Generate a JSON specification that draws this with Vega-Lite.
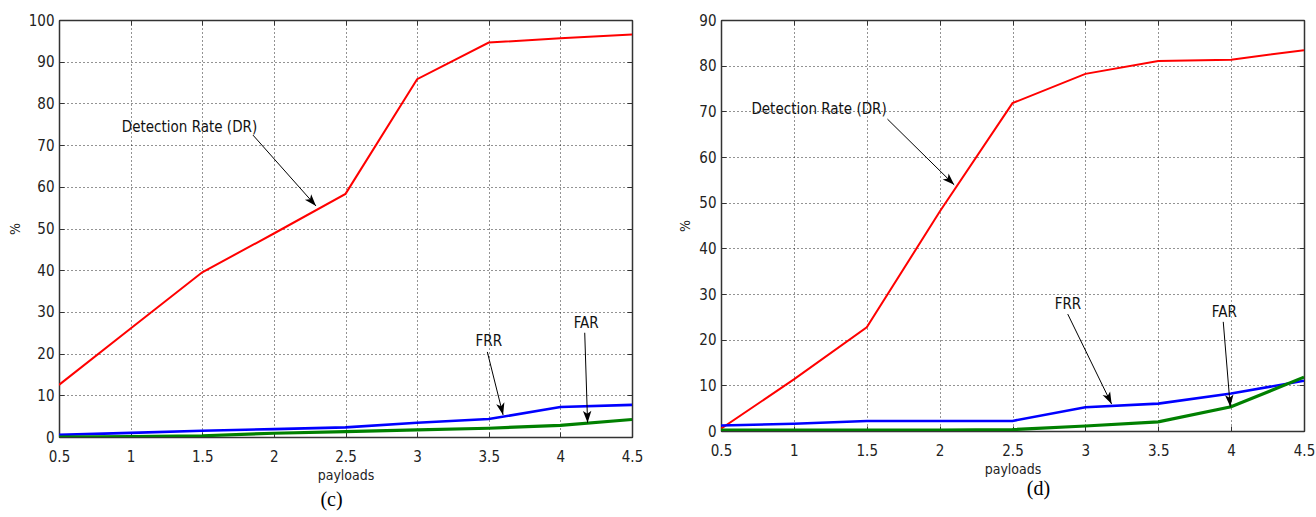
{
  "$schema": "https://vega.github.io/schema/vega-lite/v6.json",
  "padding": {"left": 7, "top": 12, "right": 0, "bottom": 5},
  "background": "#ffffff",
  "datasets": {
    "c": [
      {"payload": 0.5, "metric": "DR", "value": 12.5},
      {"payload": 1, "metric": "DR", "value": 26},
      {"payload": 1.5, "metric": "DR", "value": 39.5},
      {"payload": 2, "metric": "DR", "value": 48.8},
      {"payload": 2.5, "metric": "DR", "value": 58.3},
      {"payload": 3, "metric": "DR", "value": 85.8},
      {"payload": 3.5, "metric": "DR", "value": 94.6},
      {"payload": 4, "metric": "DR", "value": 95.6},
      {"payload": 4.5, "metric": "DR", "value": 96.5},
      {"payload": 0.5, "metric": "FRR", "value": 0.5},
      {"payload": 1, "metric": "FRR", "value": 1},
      {"payload": 1.5, "metric": "FRR", "value": 1.5},
      {"payload": 2, "metric": "FRR", "value": 1.9},
      {"payload": 2.5, "metric": "FRR", "value": 2.3},
      {"payload": 3, "metric": "FRR", "value": 3.4},
      {"payload": 3.5, "metric": "FRR", "value": 4.3},
      {"payload": 4, "metric": "FRR", "value": 7.2},
      {"payload": 4.5, "metric": "FRR", "value": 7.7},
      {"payload": 0.5, "metric": "FAR", "value": 0},
      {"payload": 1, "metric": "FAR", "value": 0.1},
      {"payload": 1.5, "metric": "FAR", "value": 0.3},
      {"payload": 2, "metric": "FAR", "value": 0.9},
      {"payload": 2.5, "metric": "FAR", "value": 1.3},
      {"payload": 3, "metric": "FAR", "value": 1.7},
      {"payload": 3.5, "metric": "FAR", "value": 2.1},
      {"payload": 4, "metric": "FAR", "value": 2.8},
      {"payload": 4.5, "metric": "FAR", "value": 4.2}
    ],
    "d": [
      {"payload": 0.5, "metric": "DR", "value": 0.5},
      {"payload": 1, "metric": "DR", "value": 11.3},
      {"payload": 1.5, "metric": "DR", "value": 22.7},
      {"payload": 2, "metric": "DR", "value": 48},
      {"payload": 2.5, "metric": "DR", "value": 71.8},
      {"payload": 3, "metric": "DR", "value": 78.2},
      {"payload": 3.5, "metric": "DR", "value": 81},
      {"payload": 4, "metric": "DR", "value": 81.3},
      {"payload": 4.5, "metric": "DR", "value": 83.4},
      {"payload": 0.5, "metric": "FRR", "value": 1.2},
      {"payload": 1, "metric": "FRR", "value": 1.6},
      {"payload": 1.5, "metric": "FRR", "value": 2.2},
      {"payload": 2, "metric": "FRR", "value": 2.2},
      {"payload": 2.5, "metric": "FRR", "value": 2.2},
      {"payload": 3, "metric": "FRR", "value": 5.2},
      {"payload": 3.5, "metric": "FRR", "value": 6},
      {"payload": 4, "metric": "FRR", "value": 8.2},
      {"payload": 4.5, "metric": "FRR", "value": 11},
      {"payload": 0.5, "metric": "FAR", "value": 0.2},
      {"payload": 1, "metric": "FAR", "value": 0.2},
      {"payload": 1.5, "metric": "FAR", "value": 0.2},
      {"payload": 2, "metric": "FAR", "value": 0.2},
      {"payload": 2.5, "metric": "FAR", "value": 0.3},
      {"payload": 3, "metric": "FAR", "value": 1.1},
      {"payload": 3.5, "metric": "FAR", "value": 2},
      {"payload": 4, "metric": "FAR", "value": 5.3},
      {"payload": 4.5, "metric": "FAR", "value": 11.8}
    ],
    "annC": [
      {"label": "Detection Rate (DR)", "tx": 1.411, "ty": 74.3, "ax": 1.854, "ay": 72.4, "hx": 2.294, "hy": 55.4},
      {"label": "FRR", "tx": 3.5, "ty": 23, "ax": 3.49, "ay": 20.4, "hx": 3.6, "hy": 5.3},
      {"label": "FAR", "tx": 4.18, "ty": 27.3, "ax": 4.17, "ay": 25, "hx": 4.19, "hy": 3.4}
    ],
    "annD": [
      {"label": "Detection Rate (DR)", "tx": 1.173, "ty": 70.5, "ax": 1.642, "ay": 68.3, "hx": 2.1, "hy": 53.9},
      {"label": "FRR", "tx": 2.88, "ty": 27.8, "ax": 2.879, "ay": 25.6, "hx": 3.18, "hy": 5.9},
      {"label": "FAR", "tx": 3.953, "ty": 26.1, "ax": 3.946, "ay": 23.9, "hx": 3.994, "hy": 5.3}
    ]
  },
  "spacing": 34,
  "hconcat": [
    {
      "width": 573,
      "height": 417,
      "title": {"text": "(c)", "orient": "bottom", "font": "Liberation Serif", "fontSize": 20, "fontWeight": "normal", "color": "#000", "offset": 8, "dx": -14},
      "resolve": {"axis": {"x": "independent", "y": "independent"}},
      "layer": [
        {
          "data": {"name": "c"},
          "mark": {"type": "line", "clip": true},
          "encoding": {
            "x": {"field": "payload", "type": "quantitative", "scale": {"domain": [0.5, 4.5], "nice": false, "zero": false},
                  "axis": {"orient": "bottom", "values": [0.5, 1, 1.5, 2, 2.5, 3, 3.5, 4, 4.5], "format": "~g", "title": "payloads", "grid": true, "labelFlush": false, "labelPadding": 17, "titlePadding": 4}},
            "y": {"field": "value", "type": "quantitative", "scale": {"domain": [0, 100], "nice": false},
                  "axis": {"orient": "left", "values": [0, 10, 20, 30, 40, 50, 60, 70, 80, 90, 100], "title": "%", "grid": true, "labelPadding": 10, "titlePadding": 6}},
            "color": {"field": "metric", "type": "nominal", "scale": {"domain": ["DR", "FRR", "FAR"], "range": ["#ff0000", "#0000ff", "#008000"]}, "legend": null},
            "strokeWidth": {"field": "metric", "type": "nominal", "scale": {"domain": ["DR", "FRR", "FAR"], "range": [2, 3.2, 3.2]}, "legend": null}
          }
        },
        {
          "data": {"name": "c"},
          "mark": {"type": "point", "opacity": 0},
          "encoding": {
            "x": {"field": "payload", "type": "quantitative", "axis": {"orient": "top", "labels": false, "title": null, "grid": false, "values": [0.5, 1, 1.5, 2, 2.5, 3, 3.5, 4, 4.5]}},
            "y": {"field": "value", "type": "quantitative", "axis": {"orient": "right", "labels": false, "title": null, "grid": false, "values": [0, 10, 20, 30, 40, 50, 60, 70, 80, 90, 100]}}
          }
        },
        {
          "data": {"name": "annC"},
          "mark": {"type": "rule", "color": "#000", "strokeWidth": 1},
          "encoding": {
            "x": {"field": "ax", "type": "quantitative", "axis": null},
            "y": {"field": "ay", "type": "quantitative", "axis": null},
            "x2": {"field": "hx"},
            "y2": {"field": "hy"}
          }
        },
        {
          "data": {"name": "annC"},
          "mark": {"type": "text", "font": "'Liberation Sans Narrow', 'DejaVu Sans Condensed', 'Liberation Sans', sans-serif", "fontSize": 15, "color": "#111", "align": "center", "baseline": "middle"},
          "encoding": {
            "x": {"field": "tx", "type": "quantitative", "axis": null},
            "y": {"field": "ty", "type": "quantitative", "axis": null},
            "text": {"field": "label"}
          }
        },
        {
          "data": {"name": "annC"},
          "transform": [{"filter": "datum.label === 'Detection Rate (DR)'"}],
          "mark": {"type": "point", "shape": "M0,0L0.35,1L0,0.75L-0.35,1Z", "filled": true, "color": "#000", "opacity": 1, "size": 576, "angle": 138.5, "strokeWidth": 0},
          "encoding": {"x": {"field": "hx", "type": "quantitative", "axis": null}, "y": {"field": "hy", "type": "quantitative", "axis": null}}
        },
        {
          "data": {"name": "annC"},
          "transform": [{"filter": "datum.label === 'FRR'"}],
          "mark": {"type": "point", "shape": "M0,0L0.35,1L0,0.75L-0.35,1Z", "filled": true, "color": "#000", "opacity": 1, "size": 576, "angle": 166.6, "strokeWidth": 0},
          "encoding": {"x": {"field": "hx", "type": "quantitative", "axis": null}, "y": {"field": "hy", "type": "quantitative", "axis": null}}
        },
        {
          "data": {"name": "annC"},
          "transform": [{"filter": "datum.label === 'FAR'"}],
          "mark": {"type": "point", "shape": "M0,0L0.35,1L0,0.75L-0.35,1Z", "filled": true, "color": "#000", "opacity": 1, "size": 576, "angle": 178, "strokeWidth": 0},
          "encoding": {"x": {"field": "hx", "type": "quantitative", "axis": null}, "y": {"field": "hy", "type": "quantitative", "axis": null}}
        }
      ]
    },
    {
      "width": 583,
      "height": 411,
      "title": {"text": "(d)", "orient": "bottom", "font": "Liberation Serif", "fontSize": 20, "fontWeight": "normal", "color": "#000", "offset": 3, "dx": 26},
      "resolve": {"axis": {"x": "independent", "y": "independent"}},
      "layer": [
        {
          "data": {"name": "d"},
          "mark": {"type": "line", "clip": true},
          "encoding": {
            "x": {"field": "payload", "type": "quantitative", "scale": {"domain": [0.5, 4.5], "nice": false, "zero": false},
                  "axis": {"orient": "bottom", "values": [0.5, 1, 1.5, 2, 2.5, 3, 3.5, 4, 4.5], "format": "~g", "title": "payloads", "grid": true, "labelFlush": false, "labelPadding": 17, "titlePadding": 4}},
            "y": {"field": "value", "type": "quantitative", "scale": {"domain": [0, 90], "nice": false},
                  "axis": {"orient": "left", "values": [0, 10, 20, 30, 40, 50, 60, 70, 80, 90], "title": "%", "grid": true, "labelPadding": 10, "titlePadding": 6}},
            "color": {"field": "metric", "type": "nominal", "scale": {"domain": ["DR", "FRR", "FAR"], "range": ["#ff0000", "#0000ff", "#008000"]}, "legend": null},
            "strokeWidth": {"field": "metric", "type": "nominal", "scale": {"domain": ["DR", "FRR", "FAR"], "range": [2, 3.2, 3.2]}, "legend": null}
          }
        },
        {
          "data": {"name": "d"},
          "mark": {"type": "point", "opacity": 0},
          "encoding": {
            "x": {"field": "payload", "type": "quantitative", "axis": {"orient": "top", "labels": false, "title": null, "grid": false, "values": [0.5, 1, 1.5, 2, 2.5, 3, 3.5, 4, 4.5]}},
            "y": {"field": "value", "type": "quantitative", "axis": {"orient": "right", "labels": false, "title": null, "grid": false, "values": [0, 10, 20, 30, 40, 50, 60, 70, 80, 90]}}
          }
        },
        {
          "data": {"name": "annD"},
          "mark": {"type": "rule", "color": "#000", "strokeWidth": 1},
          "encoding": {
            "x": {"field": "ax", "type": "quantitative", "axis": null},
            "y": {"field": "ay", "type": "quantitative", "axis": null},
            "x2": {"field": "hx"},
            "y2": {"field": "hy"}
          }
        },
        {
          "data": {"name": "annD"},
          "mark": {"type": "text", "font": "'Liberation Sans Narrow', 'DejaVu Sans Condensed', 'Liberation Sans', sans-serif", "fontSize": 15, "color": "#111", "align": "center", "baseline": "middle"},
          "encoding": {
            "x": {"field": "tx", "type": "quantitative", "axis": null},
            "y": {"field": "ty", "type": "quantitative", "axis": null},
            "text": {"field": "label"}
          }
        },
        {
          "data": {"name": "annD"},
          "transform": [{"filter": "datum.label === 'Detection Rate (DR)'"}],
          "mark": {"type": "point", "shape": "M0,0L0.35,1L0,0.75L-0.35,1Z", "filled": true, "color": "#000", "opacity": 1, "size": 576, "angle": 134.6, "strokeWidth": 0},
          "encoding": {"x": {"field": "hx", "type": "quantitative", "axis": null}, "y": {"field": "hy", "type": "quantitative", "axis": null}}
        },
        {
          "data": {"name": "annD"},
          "transform": [{"filter": "datum.label === 'FRR'"}],
          "mark": {"type": "point", "shape": "M0,0L0.35,1L0,0.75L-0.35,1Z", "filled": true, "color": "#000", "opacity": 1, "size": 576, "angle": 154, "strokeWidth": 0},
          "encoding": {"x": {"field": "hx", "type": "quantitative", "axis": null}, "y": {"field": "hy", "type": "quantitative", "axis": null}}
        },
        {
          "data": {"name": "annD"},
          "transform": [{"filter": "datum.label === 'FAR'"}],
          "mark": {"type": "point", "shape": "M0,0L0.35,1L0,0.75L-0.35,1Z", "filled": true, "color": "#000", "opacity": 1, "size": 576, "angle": 175.3, "strokeWidth": 0},
          "encoding": {"x": {"field": "hx", "type": "quantitative", "axis": null}, "y": {"field": "hy", "type": "quantitative", "axis": null}}
        }
      ]
    }
  ],
  "config": {
    "view": {"stroke": "#333", "strokeWidth": 1},
    "axis": {
      "labelFont": "'Liberation Sans Narrow', 'DejaVu Sans Condensed', 'Liberation Sans', sans-serif",
      "labelFontSize": 15,
      "labelColor": "#222",
      "titleFont": "'Liberation Sans Narrow', 'DejaVu Sans Condensed', 'Liberation Sans', sans-serif",
      "titleFontSize": 14,
      "titleFontWeight": "normal",
      "titleColor": "#222",
      "domainColor": "#333",
      "domainWidth": 1.5,
      "tickColor": "#333",
      "tickSize": -5,
      "tickWidth": 1,
      "gridColor": "#000",
      "gridDash": [1, 3],
      "gridOpacity": 0.85,
      "gridWidth": 1
    }
  }
}
